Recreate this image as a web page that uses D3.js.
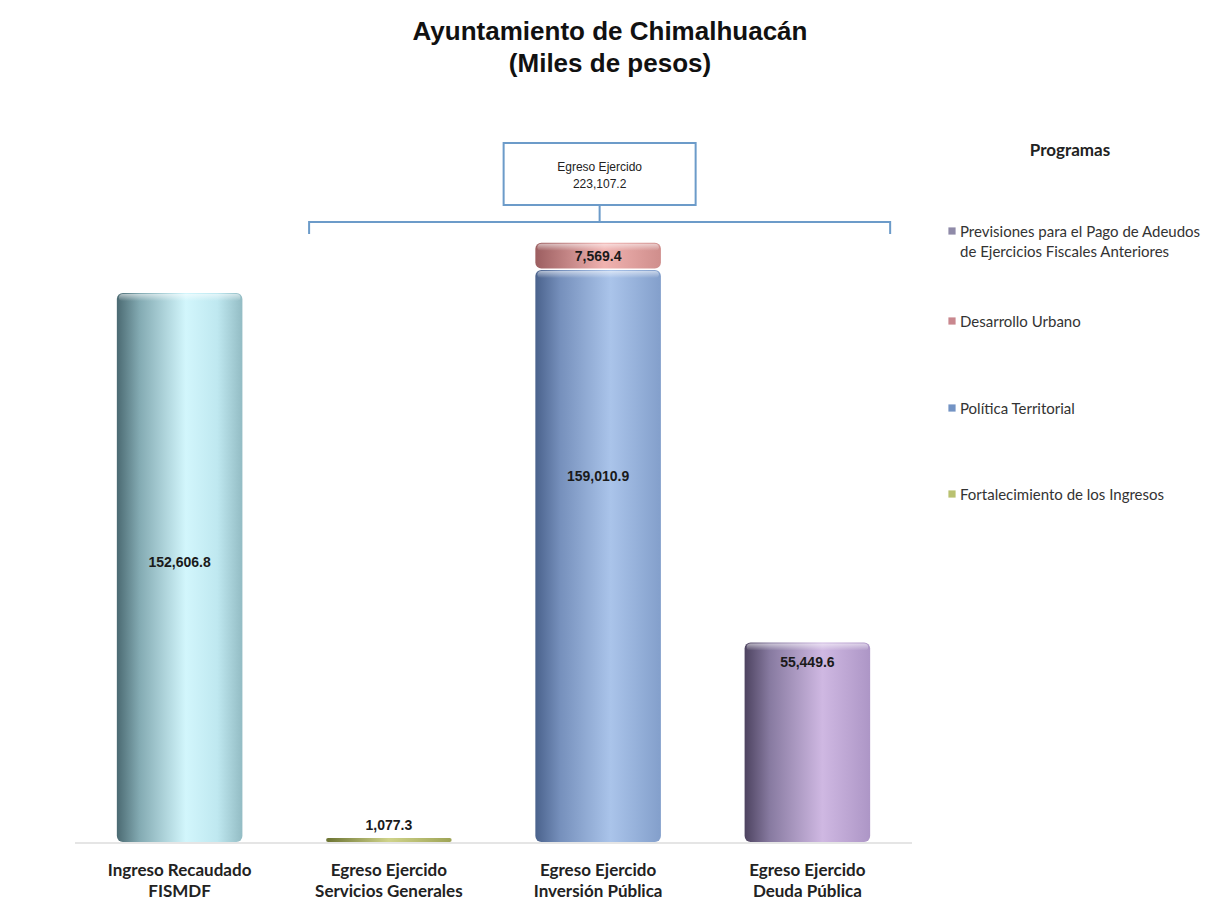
<!DOCTYPE html>
<html>
<head>
<meta charset="utf-8">
<script src="https://cdn.jsdelivr.net/npm/d3@7"></script>
<style>
  body { margin: 0; background: #fff; }
  svg { display: block; }
</style>
</head>
<body>
<div id="chart"></div>
<script>
// categories (two-line labels)
var categories = [
  ["Ingreso Recaudado", "FISMDF"],
  ["Egreso Ejercido", "Servicios Generales"],
  ["Egreso Ejercido", "Inversión Pública"],
  ["Egreso Ejercido", "Deuda Pública"]
];

// series values, one per category
var ingreso         = [152606.8, 0, 0, 0];
var fortalecimiento = [0, 1077.3, 0, 0];
var politica        = [0, 0, 159010.9, 0];
var desarrollo      = [0, 0, 7569.4, 0];
var previsiones     = [0, 0, 0, 55449.6];

var legendLabels = [
  ["Previsiones para el Pago de Adeudos", "de Ejercicios Fiscales Anteriores"],
  ["Desarrollo Urbano"],
  ["Política Territorial"],
  ["Fortalecimiento de los Ingresos"]
];

var width = 1207, height = 908;
var fmt = d3.format(",.1f");

var keys = ["ingreso", "fortalecimiento", "politica", "desarrollo", "previsiones"];
var values = { ingreso: ingreso, fortalecimiento: fortalecimiento, politica: politica,
               desarrollo: desarrollo, previsiones: previsiones };

var table = categories.map(function(c, i) {
  var row = { cat: c.join(" ") };
  keys.forEach(function(k) { row[k] = values[k][i]; });
  return row;
});

var grads = {
  ingreso:         [["0", "#4b6a72"], ["0.18", "#83aab2"], ["0.55", "#d2f6fc"], ["0.8", "#bfe8f0"], ["1", "#93bcc4"]],
  fortalecimiento: [["0", "#6b7332"], ["0.5", "#cfd38a"], ["1", "#9ea456"]],
  politica:        [["0", "#4a628c"], ["0.2", "#7690bc"], ["0.6", "#aac4ea"], ["1", "#839fcb"]],
  desarrollo:      [["0", "#9c5e60"], ["0.55", "#f0b2b0"], ["1", "#cf8e8c"]],
  previsiones:     [["0", "#4d4360"], ["0.2", "#877aa0"], ["0.62", "#cfb8e2"], ["1", "#ad96c6"]]
};
var swatch = { previsiones: "#8f8aa8", desarrollo: "#c9878e", politica: "#7393c4", fortalecimiento: "#b9c170" };
var legendKeys = ["previsiones", "desarrollo", "politica", "fortalecimiento"];

var svg = d3.select("#chart").append("svg")
  .attr("width", width).attr("height", height);

var defs = svg.append("defs");
keys.forEach(function(k) {
  var g = defs.append("linearGradient").attr("id", "g-" + k)
    .attr("x1", "0").attr("x2", "1").attr("y1", "0").attr("y2", "0");
  grads[k].forEach(function(s) {
    g.append("stop").attr("offset", s[0]).attr("stop-color", s[1]);
  });
});
var hl = defs.append("linearGradient").attr("id", "cap")
  .attr("x1", "0").attr("x2", "0").attr("y1", "0").attr("y2", "1");
hl.append("stop").attr("offset", "0").attr("stop-color", "#fff").attr("stop-opacity", 0.55);
hl.append("stop").attr("offset", "1").attr("stop-color", "#fff").attr("stop-opacity", 0);

var baseY = 842;
var x = d3.scaleBand()
  .domain(table.map(function(d) { return d.cat; }))
  .range([75, 912])
  .paddingInner(0.4)
  .paddingOuter(0.2);

var y = d3.scaleLinear().domain([0, 250000]).range([baseY, -57.3]);

// title
var titleFont = "bold 26px 'Liberation Sans', Arial, sans-serif";
svg.append("text").attr("x", 610).attr("y", 40).attr("text-anchor", "middle")
  .style("font", titleFont).attr("fill", "#111").text("Ayuntamiento de Chimalhuacán");
svg.append("text").attr("x", 610).attr("y", 72).attr("text-anchor", "middle")
  .style("font", titleFont).attr("fill", "#111").text("(Miles de pesos)");

// baseline
svg.append("line").attr("x1", 75).attr("x2", 912).attr("y1", baseY + 1).attr("y2", baseY + 1)
  .attr("stroke", "#dcdcdc").attr("stroke-width", 1.5);

// stacked cylinders
var stack = d3.stack().keys(keys)(table);
var bars = svg.append("g");
stack.forEach(function(layer) {
  layer.forEach(function(seg) {
    if (seg[1] - seg[0] <= 0) return;
    var x0 = x(seg.data.cat), bw = x.bandwidth();
    var top = y(seg[1]), bot = y(seg[0]);
    var h = Math.max(bot - top - (seg[0] > 0 ? 1.5 : 0), 3);
    bars.append("rect").attr("x", x0).attr("y", top).attr("width", bw).attr("height", h)
      .attr("rx", Math.min(6, h / 2)).attr("fill", "url(#g-" + layer.key + ")");
    if (h > 10) {
      bars.append("rect").attr("x", x0 + 2).attr("y", top + 1).attr("width", bw - 4).attr("height", 7)
        .attr("rx", 4).attr("fill", "url(#cap)");
    }
  });
});

// value labels
var valueFont = "bold 14px 'Liberation Sans Narrow', 'Arial Narrow', 'Liberation Sans', sans-serif";
var labelAt = { ingreso: 0.51, politica: 0.64, previsiones: 0.9 };
stack.forEach(function(layer) {
  layer.forEach(function(seg) {
    var v = seg[1] - seg[0];
    if (v <= 0) return;
    var cx = x(seg.data.cat) + x.bandwidth() / 2, ty;
    if (layer.key === "fortalecimiento") ty = y(seg[1]) - 8;
    else if (layer.key === "desarrollo") ty = (y(seg[0]) + y(seg[1])) / 2 + 5;
    else ty = y(seg[0] + v * labelAt[layer.key]) + 5;
    svg.append("text").attr("x", cx).attr("y", ty).attr("text-anchor", "middle")
      .style("font", valueFont).attr("fill", "#1a1a1a").text(fmt(v));
  });
});

// category labels
var catFont = "bold 17px Lato, 'Open Sans', sans-serif";
categories.forEach(function(c, i) {
  var cx = x(table[i].cat) + x.bandwidth() / 2;
  c.forEach(function(line, j) {
    svg.append("text").attr("x", cx).attr("y", 876 + j * 21).attr("text-anchor", "middle")
      .style("font", catFont).attr("fill", "#222").text(line);
  });
});

// bracket + total box
var total = d3.sum(fortalecimiento) + d3.sum(politica) + d3.sum(desarrollo) + d3.sum(previsiones);
var bl = x(table[1].cat) - 17, br = x(table[3].cat) + x.bandwidth() + 20, bY = 222;
var bc = (bl + br) / 2;
var brk = "#6c9bc9";
svg.append("path")
  .attr("d", "M" + bl + "," + (bY + 12) + "V" + bY + "H" + br + "V" + (bY + 12)
        + "M" + bc + "," + bY + "V205")
  .attr("fill", "none").attr("stroke", brk).attr("stroke-width", 2);
svg.append("rect").attr("x", bc - 96).attr("y", 143).attr("width", 192).attr("height", 62)
  .attr("fill", "#fff").attr("stroke", brk).attr("stroke-width", 2);
var boxFont = "12px 'Liberation Sans Narrow', 'Arial Narrow', sans-serif";
svg.append("text").attr("x", bc).attr("y", 171).attr("text-anchor", "middle")
  .style("font", boxFont).attr("fill", "#222").text("Egreso Ejercido");
svg.append("text").attr("x", bc).attr("y", 188).attr("text-anchor", "middle")
  .style("font", boxFont).attr("fill", "#222").text(fmt(total));

// legend
svg.append("text").attr("x", 1070).attr("y", 156).attr("text-anchor", "middle")
  .style("font", "bold 17px Lato, 'Open Sans', sans-serif").attr("fill", "#222").text("Programas");
var legY = [237, 327, 414, 500];
var legFont = "15px Lato, 'Open Sans', sans-serif";
legendKeys.forEach(function(k, i) {
  svg.append("rect").attr("x", 948).attr("y", legY[i] - 10).attr("width", 8).attr("height", 8)
    .attr("fill", swatch[k]).attr("stroke", "#fff").attr("stroke-width", 0.8);
  legendLabels[i].forEach(function(line, j) {
    svg.append("text").attr("x", 960).attr("y", legY[i] + j * 20)
      .style("font", legFont).attr("fill", "#333").text(line);
  });
});
</script>
</body>
</html>
